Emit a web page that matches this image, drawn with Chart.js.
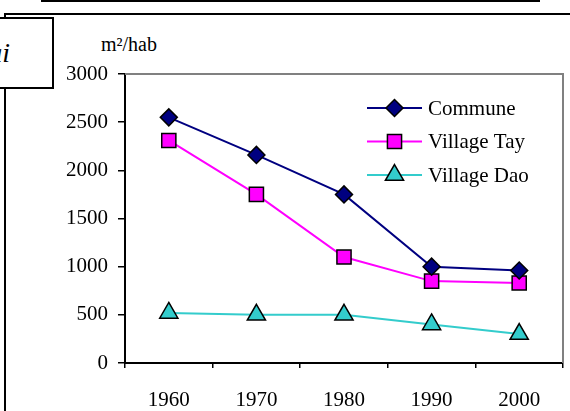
<!DOCTYPE html>
<html lang="fr">
<head>
<meta charset="UTF-8">
<title>m²/hab</title>
<script src="https://cdn.jsdelivr.net/npm/chart.js"></script>
<style>
    body { margin: 0; background: #fff; }
    .page { position: relative; width: 570px; height: 411px; overflow: hidden; font-family: 'Liberation Serif', serif; }
    .topline { position: absolute; left: 41px; top: 0; width: 499px; height: 2px; background: #000; }
    .hline { position: absolute; left: 4px; top: 13px; width: 570px; height: 2px; background: #000; }
    .vline { position: absolute; left: 4px; top: 13px; width: 2px; height: 400px; background: #000; }
    .box {
        position: absolute; left: -4px; top: 17px; width: 54px; height: 68px;
        border: 2px solid #000; background: #fff; overflow: hidden;
        font-style: italic; font-size: 28px; line-height: 68px;
    }
    .box span { position: absolute; right: 42px; top: 0; white-space: nowrap; }
    .unit { position: absolute; left: 101px; top: 33px; font-size: 20px; }
    canvas { position: absolute; left: 0; top: 0; }
</style>
</head>
<body>
<div class="page">
    <div class="topline"></div>
    <div class="hline"></div>
    <div class="vline"></div>
    <div class="box"><span>ai</span></div>
    <div class="unit">m²/hab</div>
    <canvas id="chart" width="570" height="411"></canvas>
</div>

<script>
    // données
    const years = ['1960', '1970', '1980', '1990', '2000'];
    const commune = [2550, 2160, 1750, 1000, 960];
    const villageTay = [2310, 1750, 1100, 850, 830];
    const villageDao = [520, 500, 500, 400, 300];

    const font = { family: 'Liberation Serif', size: 21 };

    // cadre gris du haut et de droite
    const frame = {
        id: 'frame',
        beforeDatasetsDraw(chart) {
            const a = chart.chartArea, ctx = chart.ctx;
            ctx.save();
            ctx.strokeStyle = '#808080';
            ctx.lineWidth = 2;
            ctx.beginPath();
            ctx.moveTo(a.left, a.top);
            ctx.lineTo(a.right, a.top);
            ctx.lineTo(a.right, a.bottom);
            ctx.stroke();
            ctx.restore();
        }
    };

    // légende avec trait + marqueur
    const lineLegend = {
        id: 'lineLegend',
        afterDraw(chart) {
            const a = chart.chartArea, ctx = chart.ctx;
            ctx.save();
            chart.data.datasets.forEach((ds, i) => {
                const y = a.top + 34 + i * 33.5;
                const x0 = a.left + 242, x1 = a.left + 297;
                ctx.strokeStyle = ds.borderColor;
                ctx.lineWidth = 2;
                ctx.beginPath();
                ctx.moveTo(x0, y);
                ctx.lineTo(x1, y);
                ctx.stroke();
                ctx.fillStyle = ds.pointBackgroundColor;
                ctx.strokeStyle = ds.pointBorderColor;
                ctx.lineWidth = ds.pointBorderWidth;
                Chart.helpers.drawPoint(ctx, {
                    pointStyle: ds.pointStyle, radius: ds.pointRadius,
                    borderWidth: ds.pointBorderWidth, rotation: 0
                }, (x0 + x1) / 2, y);
                ctx.fillStyle = '#000';
                ctx.font = '21px "Liberation Serif"';
                ctx.textBaseline = 'middle';
                ctx.textAlign = 'left';
                ctx.fillText(ds.label, x1 + 6, y + 1);
            });
            ctx.restore();
        }
    };

    function serie(label, data, color, fill, style, radius) {
        return {
            label: label,
            data: data,
            borderColor: color,
            borderWidth: 2,
            pointStyle: style,
            pointRadius: radius,
            pointHoverRadius: radius,
            pointBackgroundColor: fill,
            pointBorderColor: '#000',
            pointBorderWidth: 1.5,
            tension: 0
        };
    }

    new Chart(document.getElementById('chart'), {
        type: 'line',
        data: {
            labels: years,
            datasets: [
                serie('Commune', commune, '#000080', '#000080', 'rectRot', 8.5),
                serie('Village Tay', villageTay, '#FF00FF', '#FF00FF', 'rect', 10),
                serie('Village Dao', villageDao, '#33CCCC', '#33CCCC', 'triangle', 10.5)
            ]
        },
        options: {
            responsive: false,
            animation: false,
            layout: { autoPadding: false, padding: { left: 0, top: 74, right: 7, bottom: 0 } },
            plugins: {
                legend: { display: false },
                tooltip: { enabled: false }
            },
            scales: {
                x: {
                    offset: true,
                    afterFit(scale) { scale.height = 48; },
                    border: { color: '#000', width: 2 },
                    grid: { offset: true, drawOnChartArea: false, color: '#000', lineWidth: 1.5, tickLength: 5 },
                    ticks: { color: '#000', font: font, padding: 20, maxRotation: 0 }
                },
                y: {
                    min: 0,
                    max: 3000,
                    afterFit(scale) { scale.width = 125; },
                    border: { color: '#000', width: 2 },
                    grid: { drawOnChartArea: false, color: '#000', lineWidth: 1.5, tickLength: 7 },
                    ticks: { stepSize: 500, color: '#000', font: font, padding: 10, callback: v => String(v) }
                }
            }
        },
        plugins: [frame, lineLegend]
    });
</script>
</body>
</html>
